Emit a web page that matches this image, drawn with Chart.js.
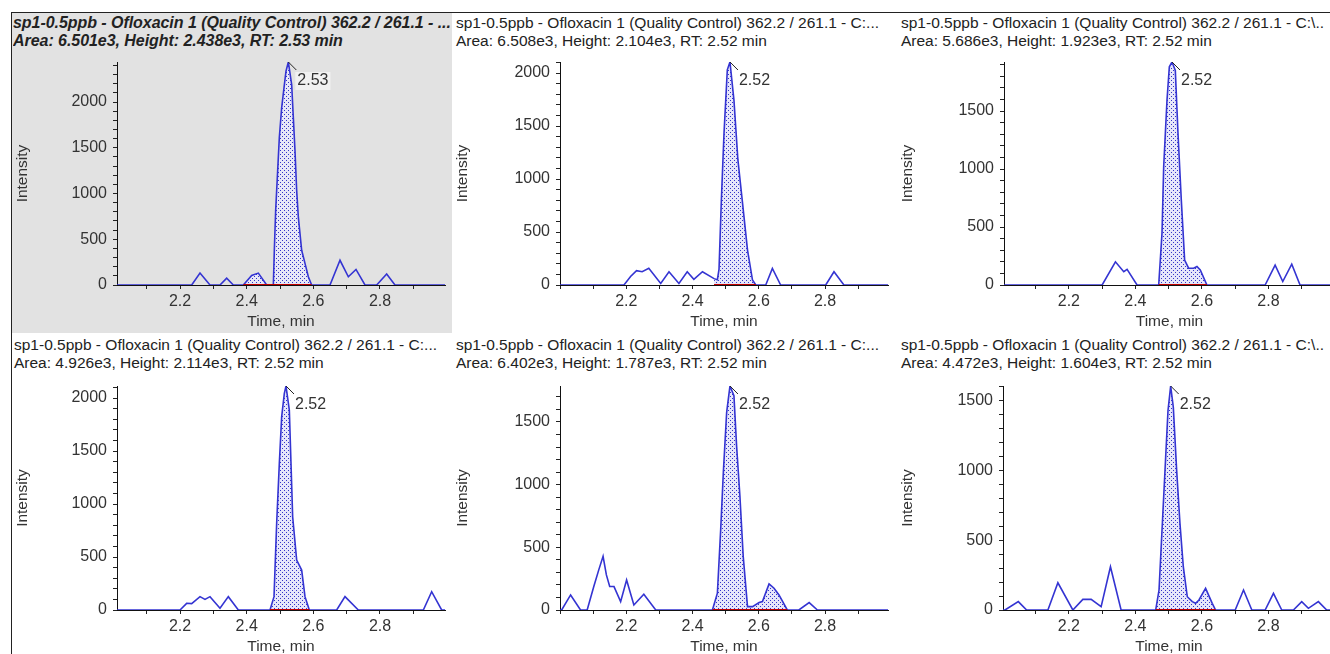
<!DOCTYPE html>
<html>
<head>
<meta charset="utf-8">
<script src="https://cdn.jsdelivr.net/npm/chart.js@4.4.1/dist/chart.umd.min.js"></script>
<style>
  html, body { margin: 0; padding: 0; background: #fff; }
  #wrap { position: relative; width: 1330px; height: 654px; overflow: hidden; background: #fff; font-family: "Liberation Sans", Arial, sans-serif; }
  .title { position: absolute; font-size: 15.5px; line-height: 18px; color: #222; white-space: nowrap; }
  .title.sel { font-weight: bold; font-style: italic; font-size: 16px; letter-spacing: -0.05px; max-width: 437px; overflow: hidden; }
  canvas { position: absolute; }
</style>
</head>
<body>
<div id="wrap">
  <div style="position:absolute;left:12px;top:13px;width:440px;height:320px;background:#e2e2e2"></div>
  <div style="position:absolute;left:11px;top:12px;width:1319px;height:1px;background:#222"></div>
  <div style="position:absolute;left:11px;top:12px;width:1px;height:642px;background:#222"></div>
</div>
<script>
// chromatogram traces, one per sample (time in min, intensity in cps)
const time1 = [2.011, 2.235, 2.260, 2.290, 2.320, 2.340, 2.360, 2.390, 2.415, 2.435, 2.460, 2.480, 2.483, 2.487, 2.492, 2.498, 2.505, 2.512, 2.518, 2.525, 2.535, 2.540, 2.545, 2.550, 2.555, 2.565, 2.575, 2.585, 2.595, 2.650, 2.680, 2.705, 2.728, 2.755, 2.790, 2.820, 2.845, 2.995];
const int1  = [0, 0, 130, 0, 0, 75, 0, 0, 105, 130, 0, 0, 380, 815, 1177, 1612, 1938, 2155, 2337, 2438, 2192, 1830, 1467, 1033, 742, 380, 236, 90, 0, 0, 270, 90, 170, 0, 0, 120, 0, 0];

const time2 = [2.0, 2.193, 2.213, 2.231, 2.248, 2.268, 2.304, 2.329, 2.359, 2.384, 2.404, 2.430, 2.465, 2.475, 2.480, 2.487, 2.495, 2.505, 2.513, 2.525, 2.537, 2.550, 2.566, 2.581, 2.591, 2.621, 2.641, 2.666, 2.802, 2.827, 2.857, 2.99];
const int2  = [0, 0, 80, 135, 125, 157, 15, 125, 15, 125, 53, 125, 60, 50, 150, 800, 1430, 2030, 2104, 1745, 1180, 800, 330, 47, 0, 0, 157, 0, 0, 125, 0, 0];

const time3 = [2.005, 2.300, 2.340, 2.365, 2.375, 2.405, 2.470, 2.480, 2.485, 2.495, 2.502, 2.510, 2.520, 2.528, 2.538, 2.548, 2.560, 2.575, 2.585, 2.595, 2.615, 2.790, 2.820, 2.843, 2.870, 2.895, 3.0];
const int3  = [0, 0, 200, 115, 135, 0, 0, 448, 1020, 1595, 1882, 1923, 1850, 1310, 733, 215, 145, 145, 160, 130, 0, 0, 172, 30, 180, 0, 0];

const time4 = [2.011, 2.200, 2.220, 2.235, 2.260, 2.275, 2.290, 2.320, 2.345, 2.375, 2.470, 2.482, 2.490, 2.498, 2.505, 2.513, 2.518, 2.528, 2.538, 2.550, 2.565, 2.575, 2.588, 2.670, 2.695, 2.735, 2.930, 2.955, 2.985, 2.995];
const int4  = [0, 0, 63, 60, 126, 100, 126, 16, 126, 0, 0, 126, 818, 1384, 1824, 2044, 2114, 1887, 880, 472, 377, 126, 0, 0, 126, 0, 0, 173, 0, 0];

const time5 = [2.0, 2.005, 2.032, 2.062, 2.082, 2.102, 2.117, 2.130, 2.140, 2.150, 2.163, 2.183, 2.201, 2.223, 2.253, 2.289, 2.460, 2.475, 2.485, 2.493, 2.503, 2.513, 2.525, 2.533, 2.543, 2.553, 2.566, 2.581, 2.601, 2.611, 2.631, 2.646, 2.661, 2.686, 2.721, 2.752, 2.777, 2.99];
const int5  = [0, 0, 120, 0, 0, 187, 320, 428, 280, 187, 187, 67, 240, 40, 126, 0, 0, 134, 641, 1096, 1577, 1787, 1710, 1310, 909, 428, 27, 27, 59, 67, 208, 174, 120, 0, 0, 59, 0, 0];

const time6 = [2.002, 2.008, 2.048, 2.073, 2.137, 2.167, 2.212, 2.242, 2.267, 2.297, 2.325, 2.357, 2.461, 2.471, 2.481, 2.491, 2.498, 2.506, 2.514, 2.524, 2.534, 2.544, 2.556, 2.571, 2.581, 2.591, 2.611, 2.631, 2.641, 2.700, 2.725, 2.750, 2.790, 2.815, 2.840, 2.875, 2.900, 2.920, 2.950, 2.975, 3.0];
const int6  = [0, 0, 60, 0, 0, 195, 0, 76, 76, 24, 310, 0, 0, 143, 619, 1095, 1429, 1604, 1452, 1000, 619, 310, 95, 60, 48, 72, 155, 48, 0, 0, 143, 0, 0, 119, 0, 0, 60, 12, 60, 0, 0];

// integration windows, peak heights (axis max), RT labels
const peakStart = [2.390, 2.465, 2.470, 2.470, 2.460, 2.461];
const peakEnd   = [2.595, 2.591, 2.615, 2.588, 2.686, 2.641];
const heights   = [2438, 2104, 1923, 2114, 1787, 1604];
const rtLabels  = ['2.53', '2.52', '2.52', '2.52', '2.52', '2.52'];
const xMins     = [2.011, 2.0, 2.005, 2.011, 2.0, 2.002];
const xMaxs     = [2.995, 2.99, 3.0, 2.995, 2.99, 3.0];

// axis ticks: minor marks every 0.1 min / 100 cps, labels on these only
const xTickMarks  = [2.0, 2.1, 2.2, 2.3, 2.4, 2.5, 2.6, 2.7, 2.8, 2.9, 3.0];
const xTickLabels = ['2.2', '2.4', '2.6', '2.8'];
const yTickMarks  = [0, 100, 200, 300, 400, 500, 600, 700, 800, 900, 1000, 1100, 1200, 1300, 1400, 1500, 1600, 1700, 1800, 1900, 2000, 2100, 2200, 2300, 2400];
const yTickLabels = [0, 500, 1000, 1500, 2000];

const sampleTitles = [
  'sp1-0.5ppb - Ofloxacin 1 (Quality Control) 362.2 / 261.1 - ...',
  'sp1-0.5ppb - Ofloxacin 1 (Quality Control) 362.2 / 261.1 - C:...',
  'sp1-0.5ppb - Ofloxacin 1 (Quality Control) 362.2 / 261.1 - C:\\..',
  'sp1-0.5ppb - Ofloxacin 1 (Quality Control) 362.2 / 261.1 - C:...',
  'sp1-0.5ppb - Ofloxacin 1 (Quality Control) 362.2 / 261.1 - C:...',
  'sp1-0.5ppb - Ofloxacin 1 (Quality Control) 362.2 / 261.1 - C:\\..'
];
const areaTexts = [
  'Area: 6.501e3, Height: 2.438e3, RT: 2.53 min',
  'Area: 6.508e3, Height: 2.104e3, RT: 2.52 min',
  'Area: 5.686e3, Height: 1.923e3, RT: 2.52 min',
  'Area: 4.926e3, Height: 2.114e3, RT: 2.52 min',
  'Area: 6.402e3, Height: 1.787e3, RT: 2.52 min',
  'Area: 4.472e3, Height: 1.604e3, RT: 2.52 min'
];

const times = [time1, time2, time3, time4, time5, time6];
const ints = [int1, int2, int3, int4, int5, int6];

// panel geometry: canvas left, top, width, height, y-axis box width, right padding, title left, title top
const panels = [
  [12, 50, 440, 283, 105, 7, 13, 14],
  [452, 50, 445, 283, 108, 9, 456, 14],
  [897, 50, 445, 283, 107, 7, 901, 14],
  [12, 374, 440, 284, 105, 7, 14, 336],
  [452, 374, 445, 284, 108, 9, 456, 336],
  [897, 374, 445, 284, 106, 7, 901, 336]
];

Chart.defaults.font.family = '"Liberation Sans", Arial, sans-serif';
Chart.defaults.font.size = 16;
Chart.defaults.color = '#333';

const TRACE = '#3434d2';

function dotPattern(bg) {
  const c = document.createElement('canvas');
  c.width = 4; c.height = 4;
  const g = c.getContext('2d');
  g.fillStyle = bg; g.fillRect(0, 0, 4, 4);
  g.fillStyle = '#3434c8';
  g.fillRect(0, 0, 1, 1); g.fillRect(2, 2, 1, 1);
  return g.createPattern(c, 'repeat');
}

const rtLabel = {
  id: 'rtLabel',
  afterDatasetsDraw(chart, args, opts) {
    const pts = chart.data.datasets[1].data;
    let top = pts[0];
    pts.forEach(p => { if (p.y > top.y) top = p; });
    const x = chart.scales.x.getPixelForValue(top.x);
    const y = chart.scales.y.getPixelForValue(top.y);
    const ctx = chart.ctx;
    ctx.save();
    ctx.font = '16px "Liberation Sans", Arial, sans-serif';
    const w = ctx.measureText(opts.text).width;
    ctx.fillStyle = 'rgba(255,255,255,0.55)';
    ctx.fillRect(x + 7, y + 10, w + 4, 18);
    ctx.strokeStyle = '#222'; ctx.lineWidth = 1;
    ctx.beginPath(); ctx.moveTo(x, y); ctx.lineTo(x + 8, y + 8); ctx.stroke();
    ctx.fillStyle = '#333'; ctx.textBaseline = 'middle';
    ctx.fillText(opts.text, x + 9, y + 19);
    ctx.restore();
  }
};

const wrap = document.getElementById('wrap');

panels.forEach((p, i) => {
  const [left, topPx, w, h, yw, padR, tx, ty] = p;

  const t = document.createElement('div');
  t.className = 'title' + (i === 0 ? ' sel' : '');
  t.style.left = tx + 'px'; t.style.top = ty + 'px';
  t.textContent = sampleTitles[i];
  t.appendChild(document.createElement('br'));
  t.appendChild(document.createTextNode(areaTexts[i]));
  wrap.appendChild(t);

  const cv = document.createElement('canvas');
  cv.width = w; cv.height = h;
  cv.style.left = left + 'px'; cv.style.top = topPx + 'px';
  wrap.appendChild(cv);

  const trace = times[i].map((tt, k) => ({ x: tt, y: ints[i][k] }));
  const area = trace.filter(pt => pt.x >= peakStart[i] && pt.x <= peakEnd[i]);
  const base = [{ x: peakStart[i], y: 0 }, { x: peakEnd[i], y: 0 }];

  new Chart(cv, {
    type: 'line',
    data: {
      datasets: [
        { data: area, fill: 'origin', backgroundColor: dotPattern(i === 0 ? 'rgba(232,232,250,0.85)' : '#e6e6fa'),
          borderColor: 'transparent', borderWidth: 1, pointRadius: 0, order: 3 },
        { data: trace, fill: false, borderColor: TRACE, borderWidth: 1.6, pointRadius: 0, tension: 0, order: 2 },
        { data: base, fill: false, borderColor: '#c00000', borderWidth: 2, pointRadius: 0, order: 1 }
      ]
    },
    options: {
      responsive: false,
      animation: false,
      events: [],
      layout: { padding: { left: 0, top: 12, right: padR, bottom: 0 } },
      plugins: { legend: { display: false }, tooltip: { enabled: false }, rtLabel: { text: rtLabels[i] } },
      scales: {
        x: {
          type: 'linear', min: xMins[i], max: xMaxs[i],
          border: { display: true, color: '#111', width: 1 },
          grid: { drawOnChartArea: false, drawTicks: true, tickLength: 4, tickColor: '#222' },
          ticks: {
            autoSkip: false, maxRotation: 0, padding: 3,
            callback: v => { const s = (Math.round(v * 10) / 10).toFixed(1); return xTickLabels.includes(s) ? s : ''; }
          },
          afterBuildTicks: s => { s.ticks = xTickMarks.filter(v => v >= s.min && v <= s.max).map(v => ({ value: v })); },
          title: { display: true, text: 'Time, min', font: { size: 15.5 }, padding: { top: 0, bottom: 2 }, color: '#333' },
          afterFit: s => { s.height = 48; s.paddingLeft = 0; s.paddingRight = 0; }
        },
        y: {
          min: 0, max: heights[i],
          border: { display: true, color: '#111', width: 1 },
          grid: { drawOnChartArea: false, drawTicks: true, tickLength: 4, tickColor: '#222' },
          ticks: {
            autoSkip: false, padding: 6,
            callback: v => (yTickLabels.includes(v) ? String(v) : '')
          },
          afterBuildTicks: s => { s.ticks = yTickMarks.filter(v => v <= s.max).map(v => ({ value: v })); },
          title: { display: true, text: 'Intensity', font: { size: 15.5 }, padding: { top: 1, bottom: 0 }, color: '#333' },
          afterFit: s => { s.width = yw; s.paddingTop = 0; s.paddingBottom = 0; }
        }
      }
    },
    plugins: [rtLabel]
  });
});
</script>
</body>
</html>
